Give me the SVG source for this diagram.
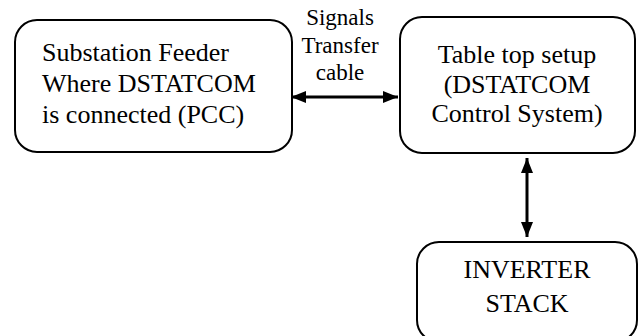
<svg xmlns="http://www.w3.org/2000/svg" width="640" height="336" viewBox="0 0 640 336">
<style>
.box{fill:#fff;stroke:#000;stroke-width:2}
.con{stroke:#000;stroke-width:3;fill:none}
</style>
<defs>
<marker id="ah" viewBox="0 0 15 12" refX="15" refY="6" markerUnits="userSpaceOnUse" markerWidth="15" markerHeight="12" orient="auto-start-reverse">
<path d="M0,0 L15,6 L0,12 Z" fill="#000"/>
</marker>
</defs>
<rect width="640" height="336" fill="#fff"/>
<g id="substation" font-family="'Liberation Serif', serif" font-size="26" fill="#000">
<rect class="box" x="15" y="20" width="277" height="132" rx="22" ry="22"/>
<text x="42" y="61">Substation Feeder</text>
<text x="42" y="92">Where DSTATCOM</text>
<text x="42" y="123">is connected (PCC)</text>
</g>
<g id="tabletop" font-family="'Liberation Serif', serif" font-size="26" fill="#000" text-anchor="middle">
<rect class="box" x="400" y="17" width="235" height="136" rx="22" ry="22"/>
<text x="517" y="63">Table top setup</text>
<text x="517" y="93">(DSTATCOM</text>
<text x="517" y="122">Control System)</text>
</g>
<g id="inverter" font-family="'Liberation Serif', serif" font-size="26" fill="#000" text-anchor="middle">
<rect class="box" x="417" y="242" width="220" height="100" rx="22" ry="22"/>
<text x="527" y="278">INVERTER</text>
<text x="527" y="312">STACK</text>
</g>
<g id="connectors">
<line class="con" x1="291" y1="97" x2="398" y2="97" marker-start="url(#ah)" marker-end="url(#ah)"/>
<line class="con" x1="527" y1="158" x2="527" y2="237" marker-start="url(#ah)" marker-end="url(#ah)"/>
<g font-family="'Liberation Serif', serif" font-size="23" fill="#000" text-anchor="middle">
<text x="340" y="25">Signals</text>
<text x="340" y="53">Transfer</text>
<text x="340" y="80">cable</text>
</g>
</g>
</svg>
